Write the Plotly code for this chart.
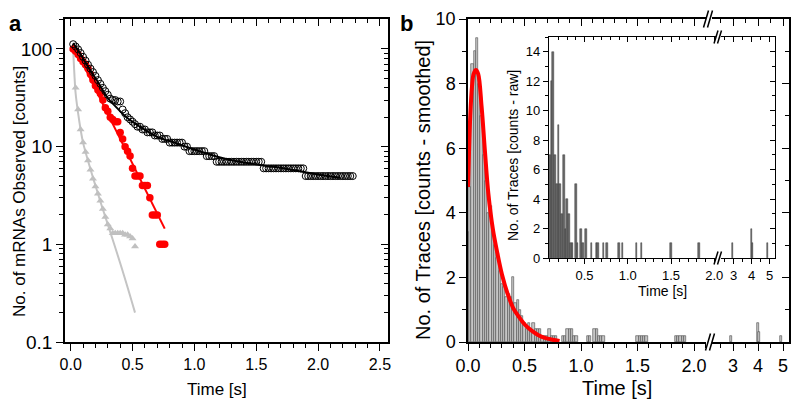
import plotly.graph_objects as go

FONT = "Liberation Sans, Arial, sans-serif"
W, H = 800, 409
OFF = 8  # the page body adds an 8 px margin; compensate so the picture lines up


def px(x):
    return (x - OFF) / W


def py(y):
    return 1 - (y - OFF) / H


# ---------------- Panel a data ----------------
frame_dt = 0.02
black_counts = [112, 106, 99, 91, 83, 76, 69, 63, 58, 53, 48, 44, 40, 37, 34, 31, 30, 30, 29, 29,
                24, 22, 20, 19, 18, 17, 16, 16, 15, 15, 14, 14, 14, 13, 13, 13, 12, 12, 12, 11,
                11, 11, 11, 11, 11, 10, 10, 9, 9, 9, 9, 9, 9, 9, 8, 8, 8, 8,
                7, 7, 7, 7, 7, 7, 7, 7, 7, 7, 7, 7, 7, 7, 7, 7, 7, 7, 7,
                6, 6, 6, 6, 6, 6, 6, 6, 6, 6, 6, 6, 6, 6, 6, 6, 6,
                5, 5, 5, 5, 5, 5, 5, 5, 5, 5, 5, 5, 5, 5, 5, 5, 5, 5, 5, 5]
black_t = [round(frame_dt * (i + 1), 2) for i in range(len(black_counts))]

red_counts = [100, 95, 88, 80, 74, 69, 63, 55, 48, 42, 38, 35, 30, 25, 23, 20, 19, 18, 18, 14,
              12, 10, 9, 8, 6, 5, 5, 5, 4, 4, 4, 3, 2, 2, 2, 1, 1, 1]
red_t = [round(frame_dt * (i + 1), 2) for i in range(len(red_counts))]

grey_counts = [100, 40, 24, 15, 11, 8.8, 7.2, 5.8, 4.7, 3.9, 3.3, 2.8, 2.3, 1.9, 1.6, 1.45,
               1.3, 1.3, 1.3, 1.3, 1.3, 1.25, 1.25, 1.2, 1.15, 0.95]
grey_t = [round(frame_dt * (i + 1), 2) for i in range(len(grey_counts))]

black_fit_t = [0.02, 0.06, 0.10, 0.16, 0.22, 0.30, 0.38, 0.45, 0.56, 0.70, 0.85, 0.95, 1.10,
               1.29, 1.53, 1.72, 1.85, 2.00, 2.18]
black_fit_v = [115, 97, 80, 60, 46, 31.5, 24.5, 20, 16, 12.6, 10.9, 9.8, 8.5, 7.3, 6.5, 6.0,
               5.6, 5.2, 4.8]
red_fit_t = [0.02, 0.76]
red_fit_v = [112, 1.45]
grey_fit_t = [0.02, 0.03, 0.04, 0.06, 0.08, 0.10, 0.15, 0.20, 0.25, 0.30, 0.375, 0.45, 0.52]
grey_fit_v = [100, 55, 35, 22, 15, 11, 6.5, 4.0, 2.5, 1.6, 0.81, 0.4, 0.2]

# ---------------- Panel b data ----------------
hist_t = [0.00, 0.02, 0.04, 0.06, 0.08, 0.10, 0.12, 0.14, 0.16, 0.18, 0.20, 0.22, 0.24, 0.26,
          0.28, 0.30, 0.32, 0.34, 0.36, 0.38, 0.40, 0.42, 0.44, 0.46, 0.48, 0.50, 0.52, 0.54,
          0.56, 0.58, 0.60, 0.62, 0.64, 0.66, 0.68, 0.70, 0.72, 0.74, 0.76, 0.78, 0.84, 0.86,
          0.88, 0.90, 0.92, 0.94, 0.96, 1.06, 1.08, 1.12, 1.14, 1.16, 1.18, 1.20, 1.50, 1.52,
          1.54, 1.56, 1.58, 1.84, 1.86, 1.88, 1.90, 1.92]
hist_v = [3.4, 4.8, 8.6, 9.0, 9.4, 8.0, 7.0, 5.8, 5.0, 4.0, 4.2, 3.5, 3.0, 2.6,
          2.2, 1.8, 1.7, 1.4, 1.5, 1.4, 2.0, 1.2, 1.3, 1.0, 0.8, 0.6, 0.4, 0.6,
          0.4, 0.6, 0.4, 0.4, 0.4, 0.2, 0.2, 0.2, 0.4, 0.2, 0.2, 0.2, 0.2, 0.2,
          0.4, 0.4, 0.4, 0.2, 0.2, 0.2, 0.2, 0.4, 0.4, 0.2, 0.2, 0.2, 0.2, 0.2,
          0.2, 0.2, 0.2, 0.2, 0.2, 0.2, 0.2, 0.2]
hist_tail_t = [2.90, 4.00, 4.04, 4.90]
hist_tail_v = [0.2, 0.6, 0.3, 0.2]

pdf_fit_t = [0.0, 0.01, 0.02, 0.035, 0.05, 0.07, 0.09, 0.12, 0.15, 0.18, 0.22, 0.26, 0.30,
             0.35, 0.40, 0.45, 0.50, 0.56, 0.62, 0.68, 0.75, 0.81]
pdf_fit_v = [4.8, 6.0, 7.0, 7.9, 8.3, 8.42, 8.3, 7.3, 5.9, 4.6, 3.5, 2.75, 2.1,
             1.5, 1.05, 0.78, 0.55, 0.36, 0.22, 0.13, 0.07, 0.03]

raw_t = [0.10, 0.12, 0.14, 0.16, 0.18, 0.20, 0.22, 0.24, 0.26, 0.28, 0.30, 0.32, 0.34, 0.36,
         0.40, 0.42, 0.46, 0.48, 0.52, 0.58, 0.64, 0.66, 0.72, 0.76, 0.90, 0.94, 1.10, 1.16,
         1.50, 1.82]
raw_v = [7, 12, 14, 7, 5, 9, 5, 3, 7, 2, 4, 3, 1, 1,
         5, 1, 2, 1, 2, 1, 1, 1, 1, 1, 1, 1, 1, 1,
         1, 1]
raw_tail_t = [2.93, 4.00, 4.03, 4.87]
raw_tail_v = [1, 2, 1, 1]

# ---------------- figure ----------------
fig = go.Figure()

fig.add_trace(go.Scatter(x=grey_fit_t, y=grey_fit_v, mode="lines", line=dict(color="#c4c4c4", width=2, shape="spline"),
                         xaxis="x", yaxis="y", showlegend=False))
fig.add_trace(go.Scatter(x=grey_t, y=grey_counts, mode="markers",
                         marker=dict(symbol="triangle-up", size=7, color="#c0c0c0"),
                         xaxis="x", yaxis="y", showlegend=False))
fig.add_trace(go.Scatter(x=red_t, y=red_counts, mode="markers",
                         marker=dict(symbol="circle", size=7.5, color="#ff0000"),
                         xaxis="x", yaxis="y", showlegend=False))
fig.add_trace(go.Scatter(x=red_fit_t, y=red_fit_v, mode="lines", line=dict(color="#ff0000", width=2),
                         xaxis="x", yaxis="y", showlegend=False))
fig.add_trace(go.Scatter(x=black_t, y=black_counts, mode="markers",
                         marker=dict(symbol="circle-open", size=7, color="black", line=dict(width=1)),
                         xaxis="x", yaxis="y", showlegend=False))
fig.add_trace(go.Scatter(x=black_fit_t, y=black_fit_v, mode="lines",
                         line=dict(color="black", width=2, shape="spline"),
                         xaxis="x", yaxis="y", showlegend=False))

bar_style = dict(color="#c6c6c6", line=dict(color="#4a4a4a", width=0.6))
fig.add_trace(go.Bar(x=hist_t, y=hist_v, width=0.02, marker=bar_style, xaxis="x3", yaxis="y3", showlegend=False))
fig.add_trace(go.Bar(x=hist_tail_t, y=hist_tail_v, width=0.08, marker=bar_style, xaxis="x4", yaxis="y3", showlegend=False))
fig.add_trace(go.Scatter(x=pdf_fit_t, y=pdf_fit_v, mode="lines", line=dict(color="#ff0000", width=4, shape="spline"),
                         xaxis="x3", yaxis="y3", showlegend=False))

raw_style = dict(color="#6a6a6a", line=dict(color="#3a3a3a", width=0.5))
fig.add_trace(go.Bar(x=raw_t, y=raw_v, width=0.02, marker=raw_style, xaxis="x7", yaxis="y5", showlegend=False))
fig.add_trace(go.Bar(x=raw_tail_t, y=raw_tail_v, width=0.06, marker=raw_style, xaxis="x8", yaxis="y5", showlegend=False))

# invisible helper traces so that the frame axes (top / right) own a subplot
for xa, ya, xv, yv in [("x2", "y", 1, 10), ("x", "y2", 1, 10),
                       ("x5", "y3", 1, 5), ("x6", "y3", 3, 5), ("x4", "y4", 3, 5),
                       ("x9", "y5", 1, 5), ("x10", "y5", 3, 5), ("x8", "y6", 3, 5)]:
    fig.add_trace(go.Scatter(x=[xv], y=[yv], mode="markers", marker=dict(opacity=0, size=1),
                             hoverinfo="skip", showlegend=False, xaxis=xa, yaxis=ya))


def ax(**kw):
    d = dict(showline=True, linecolor="black", linewidth=1.5, showgrid=False, zeroline=False,
             tickcolor="black", tickwidth=1.3, ticks="outside")
    d.update(kw)
    return d


def frame(**kw):
    d = ax(ticks="inside", showticklabels=False)
    d.update(kw)
    return d


def mnr(inside=False, **kw):
    d = dict(ticks="inside" if inside else "outside", ticklen=4, tickcolor="black", tickwidth=1.2)
    d.update(kw)
    return d


minor_log = [v * m for v in (0.1, 1, 10, 100) for m in range(2, 10) if v * m < 210]

A_X = [px(65), px(388)]
A_Y = [py(342), py(19)]
B1_X = [px(468), px(706)]
B2_X = [px(712), px(789)]
I1_X = [px(549), px(716)]
I2_X = [px(721), px(775)]
I_Y = [py(258), py(37)]

layout = dict(
    width=W, height=H, margin=dict(l=0, r=0, t=0, b=0, autoexpand=False),
    paper_bgcolor="white", plot_bgcolor="rgba(0,0,0,0)",
    font=dict(family=FONT, color="black"),
    barmode="overlay", bargap=0,
    # panel a
    xaxis=ax(domain=A_X, range=[-0.046, 2.565], anchor="y", tick0=0, dtick=0.5,
             tickformat=".1f", ticklen=7, tickfont=dict(size=16), minor=mnr(dtick=0.1, tick0=0)),
    xaxis2=frame(domain=A_X, range=[-0.046, 2.565], anchor="y", overlaying="x", side="top",
                 tick0=0, dtick=0.5, ticklen=7, minor=mnr(True, dtick=0.1, tick0=0)),
    yaxis=ax(domain=A_Y, type="log", range=[-1, 2.307], anchor="x",
             tickvals=[0.1, 1, 10, 100], ticktext=["0.1", "1", "10", "100"], ticklen=7,
             tickfont=dict(size=19), minor=mnr(tickvals=minor_log)),
    yaxis2=frame(domain=A_Y, type="log", range=[-1, 2.307], anchor="x", overlaying="y", side="right",
                 tickvals=[0.1, 1, 10, 100], ticklen=7, minor=mnr(True, tickvals=minor_log)),
    # panel b
    xaxis3=ax(domain=B1_X, range=[0, 2.106], anchor="y3", tick0=0, dtick=0.5, tickformat=".1f",
              ticklen=7, tickfont=dict(size=18), minor=mnr(dtick=0.1, tick0=0)),
    xaxis4=ax(domain=B2_X, range=[2.16, 5.24], anchor="y3", tickvals=[3, 4, 5],
              ticklen=7, tickfont=dict(size=18), minor=mnr(tickvals=[2.5, 3.5, 4.5])),
    xaxis5=frame(domain=B1_X, range=[0, 2.106], anchor="y3", overlaying="x3", side="top",
                 tick0=0, dtick=0.5, ticklen=7, minor=mnr(True, dtick=0.1, tick0=0)),
    xaxis6=frame(domain=B2_X, range=[2.16, 5.24], anchor="y3", overlaying="x4", side="top",
                 tickvals=[3, 4, 5], ticklen=7, minor=mnr(True, tickvals=[2.5, 3.5, 4.5])),
    yaxis3=ax(domain=A_Y, range=[0, 10], anchor="x3", tick0=0, dtick=2,
              ticklen=7, tickfont=dict(size=18), minor=mnr(dtick=1, tick0=0)),
    yaxis4=frame(domain=A_Y, range=[0, 10], anchor="x4", overlaying="y3", side="right",
                 tick0=0, dtick=2, ticklen=7, minor=mnr(True, dtick=1, tick0=0)),
    # inset
    xaxis7=ax(domain=I1_X, range=[0.09, 2.02], anchor="y5", tickvals=[0.5, 1.0, 1.5, 2.0],
              ticktext=["0.5", "1.0", "1.5", "2.0"], ticklen=5, tickfont=dict(size=13), linewidth=1.2,
              minor=mnr(dtick=0.1, tick0=0, ticklen=3, tickwidth=1)),
    xaxis8=ax(domain=I2_X, range=[2.3, 5.3], anchor="y5", tickvals=[3, 4, 5],
              ticklen=5, tickfont=dict(size=13), linewidth=1.2,
              minor=mnr(tickvals=[2.5, 3.5, 4.5], ticklen=3, tickwidth=1)),
    xaxis9=frame(domain=I1_X, range=[0.09, 2.02], anchor="y5", overlaying="x7", side="top",
                 tickvals=[0.5, 1.0, 1.5, 2.0], ticklen=5, linewidth=1.2,
                 minor=mnr(True, dtick=0.1, tick0=0, ticklen=3, tickwidth=1)),
    xaxis10=frame(domain=I2_X, range=[2.3, 5.3], anchor="y5", overlaying="x8", side="top",
                  tickvals=[3, 4, 5], ticklen=5, linewidth=1.2,
                  minor=mnr(True, tickvals=[2.5, 3.5, 4.5], ticklen=3, tickwidth=1)),
    yaxis5=ax(domain=I_Y, range=[0, 15], anchor="x7", tick0=0, dtick=2,
              ticklen=5, tickfont=dict(size=13), linewidth=1.2,
              minor=mnr(dtick=1, tick0=0, ticklen=3, tickwidth=1)),
    yaxis6=frame(domain=I_Y, range=[0, 15], anchor="x8", overlaying="y5", side="right",
                 tick0=0, dtick=2, ticklen=5, linewidth=1.2,
                 minor=mnr(True, dtick=1, tick0=0, ticklen=3, tickwidth=1)),
)
fig.update_layout(**layout)

ann = [
    dict(text="<b>a</b>", x=px(15), y=py(9), yanchor="top", font=dict(size=22)),
    dict(text="<b>b</b>", x=px(406), y=py(9), yanchor="top", font=dict(size=22)),
    dict(text="No. of mRNAs Observed [counts]", x=px(19), y=py(192), textangle=-90, font=dict(size=17)),
    dict(text="Time [s]", x=px(217), y=py(389), font=dict(size=17)),
    dict(text="No. of Traces [counts - smoothed]", x=px(423), y=py(190), textangle=-90, font=dict(size=20)),
    dict(text="Time [s]", x=px(617), y=py(388), font=dict(size=20)),
    dict(text="No. of Traces [counts - raw]", x=px(513), y=py(156), textangle=-90, font=dict(size=14)),
    dict(text="Time [s]", x=px(662), y=py(291), font=dict(size=14)),
]
for a in ann:
    a.setdefault("yanchor", "middle")
    a.update(xref="paper", yref="paper", showarrow=False, xanchor="center")
    a["font"] = dict(family=FONT, color="black", **a["font"])
fig.update_layout(annotations=ann)

shapes = []
for (x0, y0, x1, y1) in [(705.5, 350.5, 710.5, 333.5), (709.5, 350.5, 714.5, 333.5),
                         (703.5, 27.5, 708.5, 10.5), (707.5, 27.5, 712.5, 10.5),
                         (714.0, 264.5, 718.0, 251.5), (717.5, 264.5, 721.5, 251.5),
                         (714.0, 43.5, 718.0, 30.5), (717.5, 43.5, 721.5, 30.5)]:
    shapes.append(dict(type="line", xref="paper", yref="paper", x0=px(x0), y0=py(y0), x1=px(x1), y1=py(y1),
                       line=dict(color="black", width=1.5)))
fig.update_layout(shapes=shapes)

fig.write_html("out.html")
